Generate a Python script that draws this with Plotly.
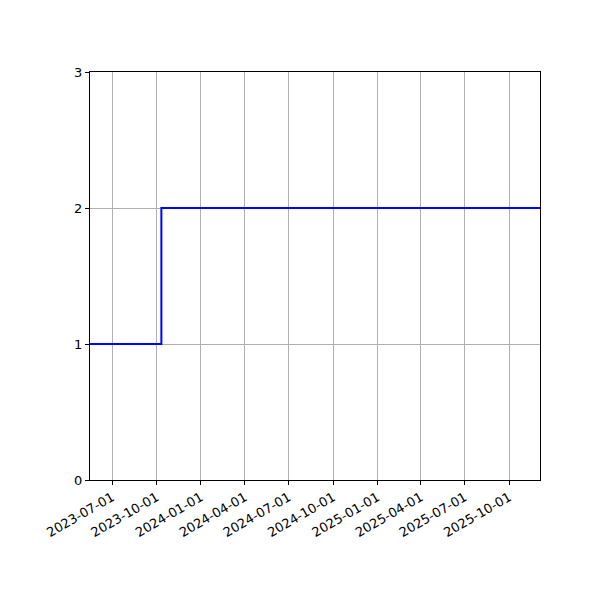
import plotly.graph_objects as go

# step data
dates = ['2023-05-16', '2023-10-11', '2025-12-04']
values = [1, 2, 2]
tick_dates = ['2023-07-01', '2023-10-01', '2024-01-01', '2024-04-01', '2024-07-01',
              '2024-10-01', '2025-01-01', '2025-04-01', '2025-07-01', '2025-10-01']
y_ticks = [0, 1, 2, 3]

fig = go.Figure()
fig.add_trace(go.Scatter(
    x=dates, y=values, mode='lines', line_shape='hv',
    line=dict(color='#0000ff', width=2),
    showlegend=False
))

axis_common = dict(
    showline=True, linecolor='black', linewidth=1, mirror=True,
    ticks='outside', ticklen=4, tickcolor='black',
    showgrid=True, gridcolor='#b0b0b0', gridwidth=1,
    zeroline=False,
)

fig.update_xaxes(
    range=[dates[0], dates[-1]],
    tickvals=tick_dates, ticktext=tick_dates, tickangle=-30,
    **axis_common
)
fig.update_yaxes(
    range=[0, 3], tickvals=y_ticks,
    **axis_common
)

# page body adds 8px, so margins are shifted to compensate
fig.update_layout(
    width=600, height=600,
    margin=dict(l=82, r=68, t=64, b=128),
    paper_bgcolor='white', plot_bgcolor='white',
    font=dict(family='DejaVu Sans', size=13, color='black'),
)

fig.write_html("out.html")
